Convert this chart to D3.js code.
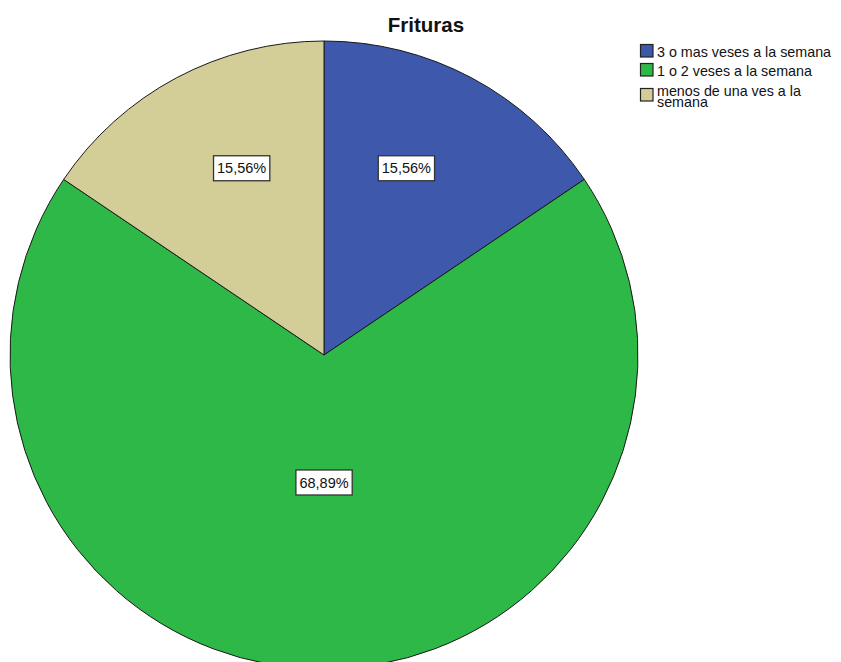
<!DOCTYPE html>
<html>
<head>
<meta charset="utf-8">
<script src="https://cdn.jsdelivr.net/npm/d3@7/dist/d3.min.js"></script>
<style>
  html, body { margin: 0; padding: 0; background: #fff; }
  svg { display: block; font-family: "Liberation Sans", Arial, sans-serif; }
</style>
</head>
<body>
<svg id="chart" width="841" height="662"></svg>
<script>
// Frequency of fried food consumption
const categories = ["3 o mas veses a la semana", "1 o 2 veses a la semana", "menos de una ves a la semana"];
const counts = [7, 31, 7];
const colors = ["#3e58ac", "#2eb848", "#d3ce97"];
const legendLines = [["3 o mas veses a la semana"], ["1 o 2 veses a la semana"], ["menos de una ves a la", "semana"]];

const svg = d3.select("#chart");
const cx = 324, cy = 355, R = 314;
const total = d3.sum(counts);
const data = categories.map((c, i) => ({ name: c, value: counts[i], color: colors[i], pct: counts[i] / total * 100 }));

svg.append("text")
  .attr("x", 426).attr("y", 32)
  .attr("text-anchor", "middle")
  .attr("font-size", 20.5).attr("font-weight", "bold")
  .attr("fill", "#111")
  .text("Frituras");

const pie = d3.pie().sort(null).value(d => d.value);
const arc = d3.arc().innerRadius(0).outerRadius(R);
const arcs = pie(data);

const g = svg.append("g").attr("transform", `translate(${cx},${cy})`);
g.selectAll("path.slice").data(arcs).join("path")
  .attr("class", "slice")
  .attr("d", arc)
  .attr("fill", d => d.data.color)
  .attr("stroke", "#1a1a1a")
  .attr("stroke-width", 1);

// label anchor: small slices sit further out, nudged toward the vertical axis
const fmt = v => v.toFixed(2).replace(".", ",") + "%";
arcs.forEach(d => {
  const mid = (d.startAngle + d.endAngle) / 2;
  const span = d.endAngle - d.startAngle;
  const rr = span < Math.PI ? 0.65 * R : 0.406 * R;
  const a = span < Math.PI ? mid + (mid < Math.PI ? -1 : 1) * 4.2 * Math.PI / 180 : mid;
  const x = rr * Math.sin(a), y = -rr * Math.cos(a);
  const lg = g.append("g").attr("transform", `translate(${x},${y})`);
  const t = lg.append("text")
    .attr("text-anchor", "middle").attr("dy", "0.36em")
    .attr("font-size", 14.5).attr("fill", "#111")
    .text(fmt(d.data.pct));
  const bb = t.node().getBBox();
  lg.insert("rect", "text")
    .attr("x", bb.x - 3.5).attr("y", -12.5)
    .attr("width", bb.width + 7).attr("height", 25)
    .attr("fill", "#fff").attr("stroke", "#333").attr("stroke-width", 1.3);
});

// legend
const leg = svg.append("g").attr("transform", "translate(640,44)");
const ys = [0, 19, 44];
legendLines.forEach((lines, i) => {
  const y0 = ys[i];
  leg.append("rect")
    .attr("x", 0.5).attr("y", y0 + 0.5).attr("width", 12.5).attr("height", 12.5)
    .attr("fill", colors[i]).attr("stroke", "#222").attr("stroke-width", 1.2);
  const t = leg.append("text")
    .attr("x", 17).attr("y", lines.length > 1 ? y0 + 7.5 : y0 + 12.5)
    .attr("font-size", 14.3).attr("fill", "#111");
  lines.forEach((ln, j) => {
    t.append("tspan")
      .attr("x", 17).attr("dy", j === 0 ? 0 : 11.5)
      .text(ln);
  });
});
</script>
</body>
</html>
